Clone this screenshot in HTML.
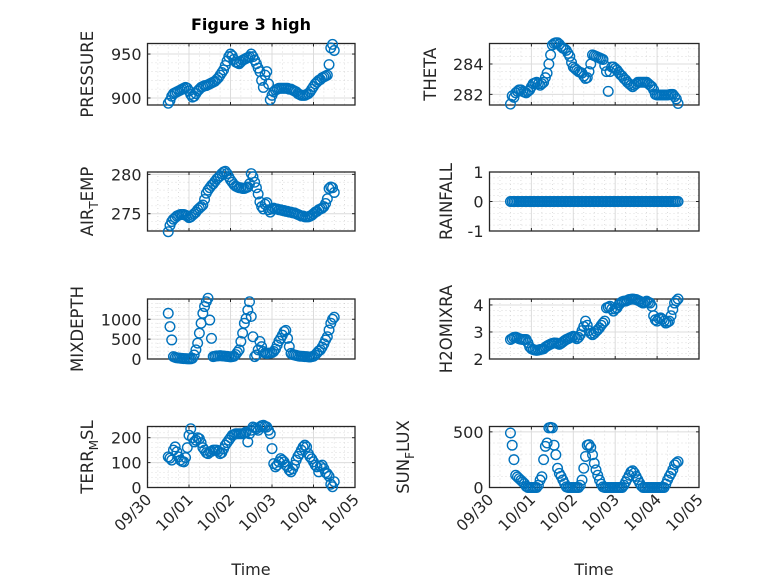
<!DOCTYPE html>
<html><head><meta charset="utf-8"><style>
html,body{margin:0;padding:0;background:#fff;}
svg{display:block;font-family:"DejaVu Sans","Liberation Sans",sans-serif;}
</style></head><body>
<svg id="fig" width="778" height="583" viewBox="0 0 778 583" xmlns="http://www.w3.org/2000/svg">
<rect width="778" height="583" fill="#fff"/>
<text x="251" y="30" font-size="16" font-weight="bold" text-anchor="middle" fill="#000">Figure 3 high</text>
<text x="251" y="575" font-size="16" text-anchor="middle" fill="#262626">Time</text>
<text x="594" y="575" font-size="16" text-anchor="middle" fill="#262626">Time</text>
</svg>
<script>
const startHour = 12;
const stepHour = 1;
const xTickLabels = ["09/30","10/01","10/02","10/03","10/04","10/05"];
const pressure = [894,897,902,905,906,907,908,909,910,911,912,911,908,904,901,902,905,908,910,912,913,914,914,915,916,917,918,919,921,923,926,929,932,937,942,947,950,948,944,941,940,939,941,943,944,945,946,947,950,947,943,939,934,930,920,912,926,930,916,898,903,907,909,910,911,911,911,911,911,911,910,910,909,908,907,905,904,903,903,903,904,905,907,910,913,916,918,920,921,923,924,925,926,938,957,961,954];
const airTemp = [272.7,273.5,274.0,274.3,274.5,274.7,274.8,274.9,274.9,274.9,274.8,274.7,274.5,274.6,274.8,275.0,275.2,275.5,275.7,275.9,276.1,276.8,277.6,278.0,278.3,278.6,278.8,279.1,279.4,279.6,279.8,280.1,280.3,280.4,280.1,279.7,279.3,279.0,278.7,278.5,278.4,278.3,278.3,278.2,278.2,278.3,278.4,278.8,280.1,279.7,279.0,278.3,277.5,276.5,275.9,275.6,276.2,276.4,275.5,275.2,275.6,275.7,275.6,275.6,275.5,275.5,275.4,275.4,275.3,275.3,275.2,275.2,275.1,275.1,275.0,274.9,274.8,274.7,274.7,274.6,274.6,274.6,274.7,274.8,275.0,275.2,275.3,275.5,275.6,275.7,275.9,276.3,276.9,278.2,278.4,278.3,277.7];
const mixDepth = [1150,815,480,60,40,30,25,20,15,10,10,5,5,5,20,100,230,400,650,900,1150,1320,1440,1530,980,520,60,70,80,80,85,80,75,70,65,60,55,60,70,110,170,230,440,650,900,1020,1230,1440,1070,560,60,100,230,440,310,190,150,140,145,150,160,190,250,350,450,520,600,690,720,520,310,140,110,100,90,80,70,70,65,60,60,55,50,60,70,100,150,200,230,300,380,480,560,730,900,1000,1050];
const terrMsl = [123,118,110,150,163,143,123,110,105,103,120,160,210,236,200,183,190,200,196,180,160,150,140,136,143,145,150,150,150,145,136,140,155,170,180,190,200,210,213,216,216,216,216,216,218,223,183,216,230,243,240,236,230,243,248,250,246,243,230,216,156,96,83,90,103,116,110,103,90,83,70,63,75,90,110,125,136,150,163,170,163,136,123,115,103,90,83,63,85,90,76,60,55,45,13,3,23];
const theta = [281.36,281.9,281.8,282.1,282.2,282.3,282.3,282.2,282.15,282.1,282.2,282.3,282.5,282.7,282.75,282.8,282.7,282.6,282.7,282.8,283.1,283.4,284.0,284.6,285.25,285.35,285.4,285.4,285.3,285.15,285.05,285.0,284.9,284.7,284.5,284.1,283.8,283.7,283.6,283.5,283.45,283.4,283.2,283.05,283.1,283.5,284.0,284.6,284.55,284.5,284.45,284.4,284.35,284.3,283.9,283.5,282.2,283.5,283.8,283.8,283.7,283.6,283.45,283.3,283.2,283.05,282.95,282.8,282.7,282.6,282.5,282.6,282.7,282.8,282.8,282.8,282.8,282.8,282.8,282.7,282.6,282.5,282.3,282.0,281.96,281.96,281.96,281.96,281.96,281.96,281.96,281.98,282.0,282.0,281.85,281.7,281.4];
const rainfall = [0,0,0,0,0,0,0,0,0,0,0,0,0,0,0,0,0,0,0,0,0,0,0,0,0,0,0,0,0,0,0,0,0,0,0,0,0,0,0,0,0,0,0,0,0,0,0,0,0,0,0,0,0,0,0,0,0,0,0,0,0,0,0,0,0,0,0,0,0,0,0,0,0,0,0,0,0,0,0,0,0,0,0,0,0,0,0,0,0,0,0,0,0,0,0,0,0];
const h2oMix = [2.72,2.76,2.8,2.81,2.78,2.75,2.73,2.72,2.72,2.72,2.6,2.45,2.38,2.35,2.33,2.32,2.33,2.35,2.36,2.38,2.44,2.48,2.52,2.55,2.58,2.59,2.59,2.57,2.54,2.58,2.63,2.68,2.72,2.75,2.78,2.81,2.84,2.8,2.75,2.8,2.9,3.05,3.2,3.4,3.25,3.05,2.95,2.9,2.95,3.02,3.08,3.15,3.25,3.33,3.4,3.89,3.92,3.95,3.85,3.77,3.85,3.89,4.0,4.07,4.12,4.14,4.14,4.17,4.2,4.21,4.22,4.21,4.2,4.17,4.14,4.1,4.07,4.1,4.14,4.1,4.07,3.95,3.6,3.45,3.4,3.5,3.52,3.47,3.4,3.33,3.36,3.4,3.6,3.83,4.07,4.15,4.22];
const sunFlux = [490,380,250,110,95,80,65,50,35,10,0,0,0,0,0,0,20,67,97,250,370,400,536,540,536,380,294,173,127,100,67,35,6,0,0,0,0,0,0,0,20,67,173,279,380,385,360,294,218,158,110,67,30,6,0,0,0,0,0,0,0,0,0,0,0,20,50,80,110,140,150,130,100,70,40,15,0,0,0,0,0,0,0,0,0,0,0,0,0,30,67,100,127,160,203,220,233];
const pressureTicks = [900,950];
const airTempTicks = [275,280];
const mixDepthTicks = [0,500,1000];
const terrTicks = [0,100,200];
const thetaTicks = [282,284];
const rainTicks = [-1,0,1];
const h2oTicks = [2,3,4];
const sunTicks = [0,500];

const NS="http://www.w3.org/2000/svg";
const svg=document.getElementById('fig');
function mk(tag,attrs,parent){const e=document.createElementNS(NS,tag);for(const k in attrs)e.setAttribute(k,attrs[k]);(parent||svg).appendChild(e);return e;}

const panels=[
 {name:'pressure',x0:147.5,x1:355,y0:43.5,y1:105,dom:[892,962],data:pressure,ticks:pressureTicks,minor:10,label:['PRESSURE'],lx:93},
 {name:'air-temp',x0:147.5,x1:355,y0:172,y1:231,dom:[272.8,280.3],data:airTemp,ticks:airTempTicks,minor:1,label:['AIR','T','EMP'],lx:93},
 {name:'mixdepth',x0:147.5,x1:355,y0:299,y1:359,dom:[0,1510],data:mixDepth,ticks:mixDepthTicks,minor:100,label:['MIXDEPTH'],lx:83},
 {name:'terr-msl',x0:147.5,x1:355,y0:426.5,y1:487.5,dom:[0,245],data:terrMsl,ticks:terrTicks,minor:20,label:['TERR','M','SL'],lx:93},
 {name:'theta',x0:489.5,x1:699,y0:43.5,y1:105,dom:[281.3,285.35],data:theta,ticks:thetaTicks,minor:0.5,label:['THETA'],lx:436},
 {name:'rainfall',x0:489.5,x1:699,y0:172,y1:231,dom:[-1,1],data:rainfall,ticks:rainTicks,minor:0.2,label:['RAINFALL'],lx:452},
 {name:'h2omixra',x0:489.5,x1:699,y0:299,y1:359,dom:[2,4.22],data:h2oMix,ticks:h2oTicks,minor:0.2,label:['H2OMIXRA'],lx:452},
 {name:'sun-flux',x0:489.5,x1:699,y0:426.5,y1:487.5,dom:[0,548],data:sunFlux,ticks:sunTicks,minor:100,label:['SUN','F','LUX'],lx:409}
];

panels.forEach((p,pi)=>{
  const g=mk('g',{});
  
  
  const xs=h=>p.x0+(p.x1-p.x0)*h/120;
  const ys=v=>p.y1-(p.y1-p.y0)*(v-p.dom[0])/(p.dom[1]-p.dom[0]);
  for(let h=6;h<120;h+=6){ if(h%24===0)continue;
    const l=mk('line',{x1:xs(h),x2:xs(h),y1:p.y0,y2:p.y1,stroke:'#cfcfcf','stroke-width':0.7,'stroke-dasharray':'1,3'},g);
    
    }
  const start=Math.ceil(p.dom[0]/p.minor)*p.minor;
  for(let v=start;v<=p.dom[1]+1e-9;v+=p.minor){
    if(p.ticks.some(t=>Math.abs(t-v)<1e-6))continue;
    const l=mk('line',{x1:p.x0,x2:p.x1,y1:ys(v),y2:ys(v),stroke:'#cfcfcf','stroke-width':0.7,'stroke-dasharray':'1,3'},g);
    
    }
  for(let d=1;d<5;d++){
    const l=mk('line',{x1:xs(d*24),x2:xs(d*24),y1:p.y0,y2:p.y1,stroke:'#dcdcdc','stroke-width':1},g);
    
    }
  p.ticks.forEach(t=>{
    const y=ys(t);
    const l=mk('line',{x1:p.x0,x2:p.x1,y1:y,y2:y,stroke:'#dcdcdc','stroke-width':1},g);
    
    
    mk('line',{x1:p.x0,x2:p.x0+3,y1:y,y2:y,stroke:'#262626','stroke-width':1},g);
    mk('line',{x1:p.x1,x2:p.x1-3,y1:y,y2:y,stroke:'#262626','stroke-width':1},g);
    const tx=mk('text',{x:p.x0-6,y:y+6,'font-size':16,'text-anchor':'end',fill:'#262626'},g);
    tx.textContent=String(t);
    
    
  });
  for(let d=0;d<=5;d++){
    const x=xs(d*24);
    mk('line',{x1:x,x2:x,y1:p.y1,y2:p.y1-3,stroke:'#262626','stroke-width':1},g);
    mk('line',{x1:x,x2:x,y1:p.y0,y2:p.y0+3,stroke:'#262626','stroke-width':1},g);
    if(pi===3||pi===7){
      const tx=mk('text',{x:x+5,y:p.y1+13,'font-size':15.5,'text-anchor':'end',fill:'#262626',transform:`rotate(-45 ${x+5} ${p.y1+13})`},g);
      tx.textContent=xTickLabels[d];
      
      
    }
  }
  const b=mk('rect',{x:p.x0,y:p.y0,width:p.x1-p.x0,height:p.y1-p.y0,fill:'none',stroke:'#262626','stroke-width':1.3},g);
  
  
  const cy=(p.y0+p.y1)/2;
  const lab=mk('text',{x:p.lx,y:cy,'font-size':16.5,'text-anchor':'middle',fill:'#262626',transform:`rotate(-90 ${p.lx} ${cy})`},g);
  
  
  if(p.label.length===1){lab.textContent=p.label[0];}
  else{
    const a=mk('tspan',{},lab);a.textContent=p.label[0];
    const s=mk('tspan',{dy:5,'font-size':12},lab);s.textContent=p.label[1];
    const c=mk('tspan',{dy:-5},lab);c.textContent=p.label[2];
  }
  const n=p.data.length;
  for(let i=0;i<n;i++){
    const h=startHour+i*stepHour;
    const c=mk('circle',{cx:xs(h),cy:ys(p.data[i]),r:4.8,fill:'none',stroke:'#0072BD','stroke-width':1.4},g);
    
    
  }
});
</script>
</body></html>
